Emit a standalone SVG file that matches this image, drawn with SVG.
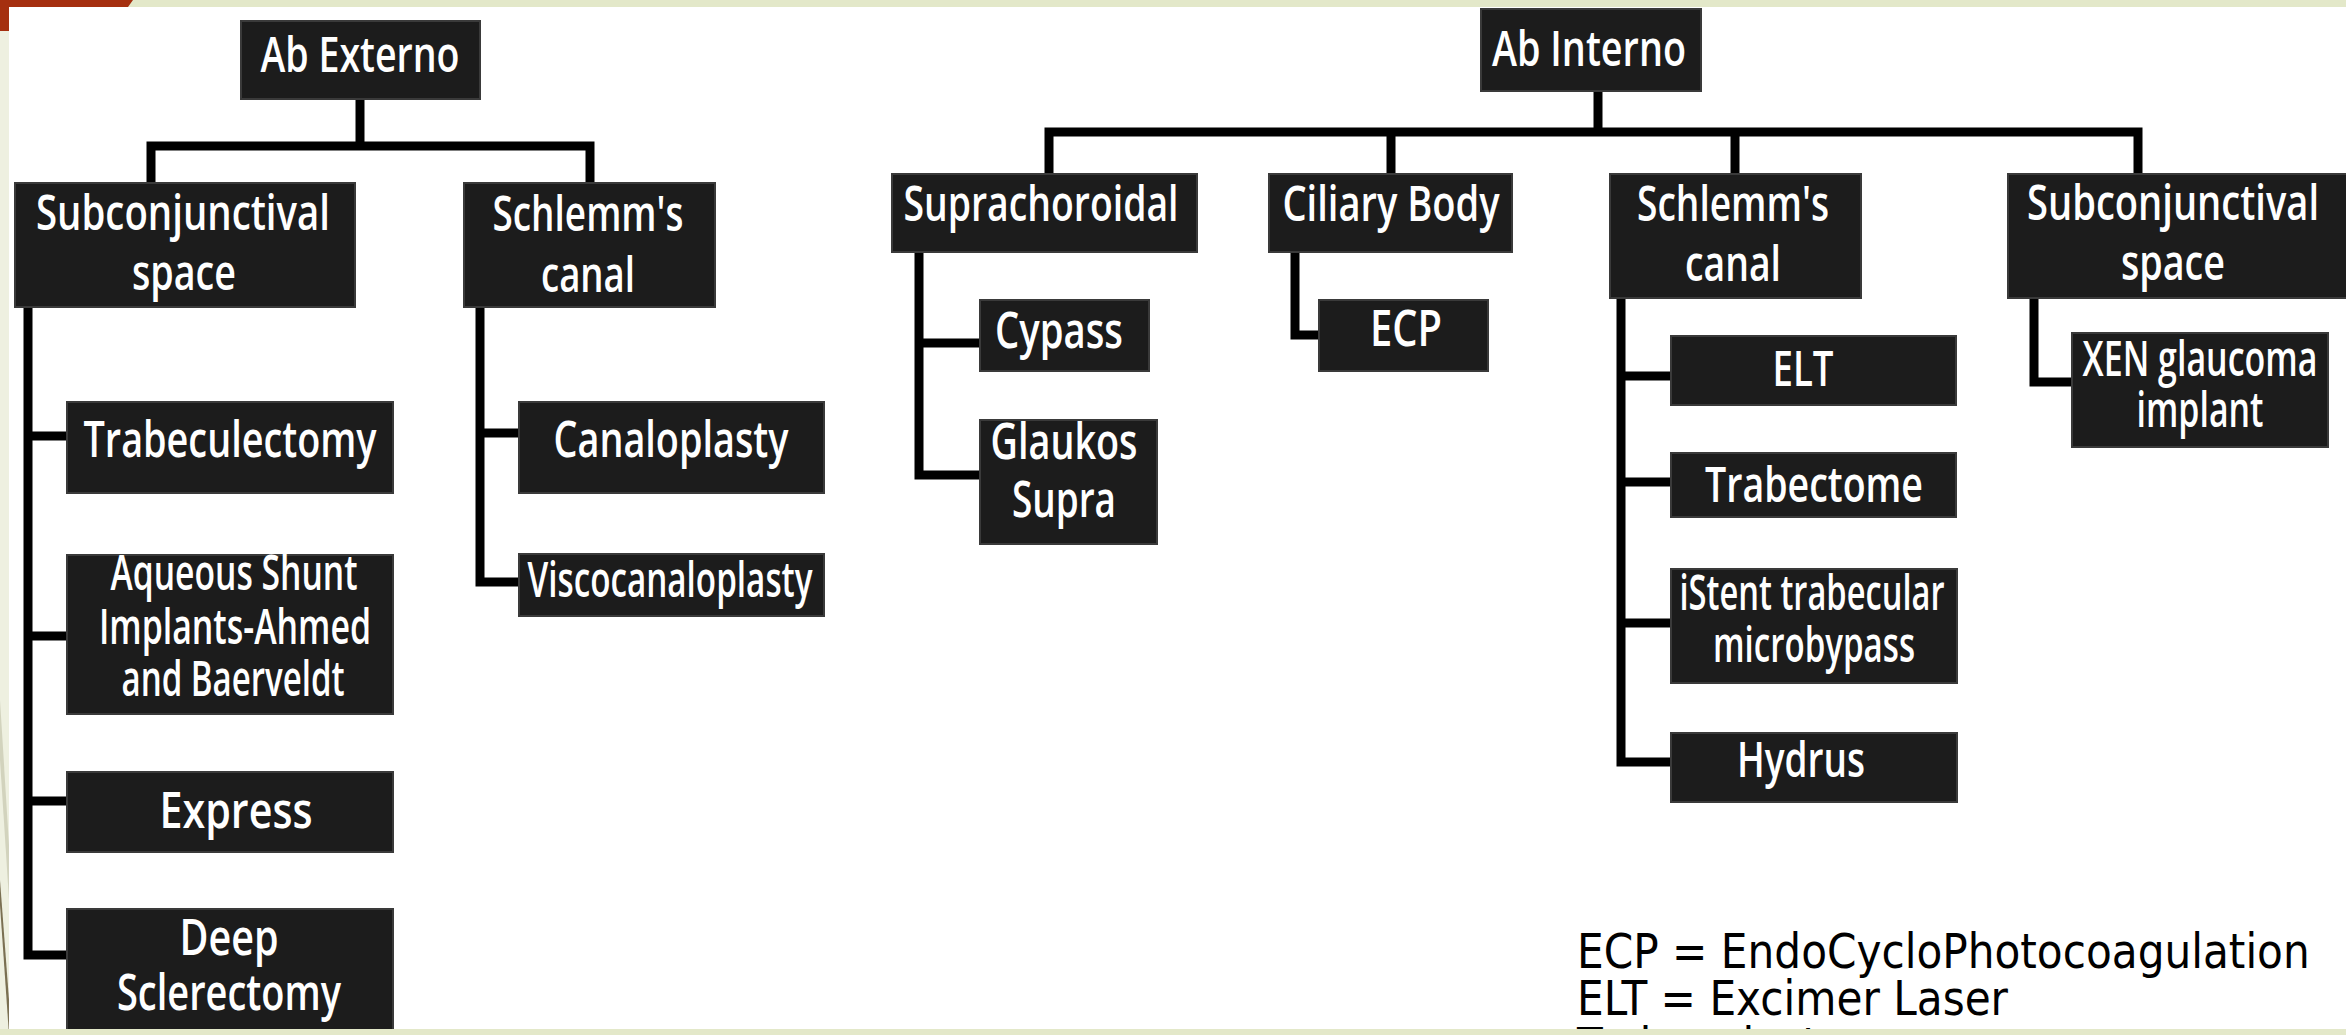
<svg xmlns="http://www.w3.org/2000/svg" width="2346" height="1035" viewBox="0 0 2346 1035">
<style>
.bx{fill:#1c1c1c;stroke:#3a3a3a;stroke-width:2}
.t{font-family:"Open Sans","DejaVu Sans",sans-serif;font-weight:600;font-size:48px;fill:#ffffff;text-anchor:middle}
.b{font-size:51px}
.c{fill:none;stroke:#000;stroke-width:9;stroke-linejoin:miter;stroke-linecap:butt}
.leg{font-family:"DejaVu Sans",sans-serif;font-size:48px;fill:#000}
</style>
<rect x="0" y="0" width="2346" height="1035" fill="#eef0e0"/>
<rect x="0" y="0" width="2346" height="7" fill="#e3e8c9"/>
<polygon points="0,700 0,760 9,900 9,845" fill="#d2d3bd"/>
<polygon points="0,880 0,905 9,1035 9,1000" fill="#7a7052"/>
<polygon points="0,0 133,0 128,7 9,7 9,31 0,31" fill="#a52f0f"/>
<rect x="9" y="7" width="2337" height="1022" fill="#ffffff"/>

<g id="connectors">
<path class="c" d="M360 99V146"/>
<path class="c" d="M151 183V146H590V183"/>
<path class="c" d="M28 307V955H67"/>
<path class="c" d="M28 436H67M28 636H67M28 801H67"/>
<path class="c" d="M480 307V582H519"/>
<path class="c" d="M480 433H519"/>
<path class="c" d="M1598 91V132"/>
<path class="c" d="M1049 173V132H2138V173"/>
<path class="c" d="M1391 132V173M1735 132V173"/>
<path class="c" d="M919 252V475H980"/>
<path class="c" d="M919 343H980"/>
<path class="c" d="M1295 252V335H1319"/>
<path class="c" d="M1621 298V762H1670"/>
<path class="c" d="M1621 376H1672M1621 482H1672M1621 623H1670"/>
<path class="c" d="M2034 298V382H2072"/>
</g>

<g id="ab-externo"><rect class="bx" x="241" y="21" width="239" height="78"/><text class="t" x="360" y="72" textLength="199" lengthAdjust="spacingAndGlyphs">Ab Externo</text></g>
<g id="subconj-left"><rect class="bx" x="15" y="183" width="340" height="124"/><text class="t" x="183" y="230" textLength="294" lengthAdjust="spacingAndGlyphs">Subconjunctival</text><text class="t" x="184" y="290" textLength="104" lengthAdjust="spacingAndGlyphs">space</text></g>
<g id="schlemm-left"><rect class="bx" x="464" y="183" width="251" height="124"/><text class="t" x="588" y="231" textLength="191" lengthAdjust="spacingAndGlyphs">Schlemm's</text><text class="t" x="588" y="292" textLength="94" lengthAdjust="spacingAndGlyphs">canal</text></g>
<g id="trabeculectomy"><rect class="bx" x="67" y="402" width="326" height="91"/><text class="t b" x="230" y="457" textLength="293" lengthAdjust="spacingAndGlyphs">Trabeculectomy</text></g>
<g id="aqueous-shunt"><rect class="bx" x="67" y="555" width="326" height="159"/><text class="t" x="234" y="590" textLength="247" lengthAdjust="spacingAndGlyphs">Aqueous Shunt</text><text class="t" x="235" y="644" textLength="272" lengthAdjust="spacingAndGlyphs">Implants-Ahmed</text><text class="t" x="233" y="696" textLength="223" lengthAdjust="spacingAndGlyphs">and Baerveldt</text></g>
<g id="express"><rect class="bx" x="67" y="772" width="326" height="80"/><text class="t b" x="236" y="828" textLength="153" lengthAdjust="spacingAndGlyphs">Express</text></g>
<g id="deep-sclerectomy"><rect class="bx" x="67" y="909" width="326" height="126"/><text class="t b" x="229" y="955" textLength="99" lengthAdjust="spacingAndGlyphs">Deep</text><text class="t b" x="229" y="1010" textLength="224" lengthAdjust="spacingAndGlyphs">Sclerectomy</text></g>
<g id="canaloplasty"><rect class="bx" x="519" y="402" width="305" height="91"/><text class="t b" x="671" y="457" textLength="235" lengthAdjust="spacingAndGlyphs">Canaloplasty</text></g>
<g id="viscocanaloplasty"><rect class="bx" x="519" y="554" width="305" height="62"/><text class="t" x="670" y="597" textLength="285" lengthAdjust="spacingAndGlyphs">Viscocanaloplasty</text></g>

<g id="ab-interno"><rect class="bx" x="1481" y="9" width="220" height="82"/><text class="t" x="1589" y="66" textLength="194" lengthAdjust="spacingAndGlyphs">Ab Interno</text></g>
<g id="suprachoroidal"><rect class="bx" x="892" y="174" width="305" height="78"/><text class="t" x="1041" y="221" textLength="275" lengthAdjust="spacingAndGlyphs">Suprachoroidal</text></g>
<g id="ciliary-body"><rect class="bx" x="1269" y="174" width="243" height="78"/><text class="t" x="1391" y="221" textLength="217" lengthAdjust="spacingAndGlyphs">Ciliary Body</text></g>
<g id="schlemm-right"><rect class="bx" x="1610" y="174" width="251" height="124"/><text class="t" x="1733" y="221" textLength="192" lengthAdjust="spacingAndGlyphs">Schlemm's</text><text class="t" x="1733" y="281" textLength="96" lengthAdjust="spacingAndGlyphs">canal</text></g>
<g id="subconj-right"><rect class="bx" x="2008" y="174" width="345" height="124"/><text class="t" x="2173" y="220" textLength="292" lengthAdjust="spacingAndGlyphs">Subconjunctival</text><text class="t" x="2173" y="280" textLength="104" lengthAdjust="spacingAndGlyphs">space</text></g>
<g id="cypass"><rect class="bx" x="980" y="300" width="169" height="71"/><text class="t b" x="1059" y="348" textLength="128" lengthAdjust="spacingAndGlyphs">Cypass</text></g>
<g id="glaukos-supra"><rect class="bx" x="980" y="420" width="177" height="124"/><text class="t b" x="1064" y="459" textLength="147" lengthAdjust="spacingAndGlyphs">Glaukos</text><text class="t b" x="1064" y="517" textLength="104" lengthAdjust="spacingAndGlyphs">Supra</text></g>
<g id="ecp"><rect class="bx" x="1319" y="300" width="169" height="71"/><text class="t b" x="1406" y="346" textLength="72" lengthAdjust="spacingAndGlyphs">ECP</text></g>
<g id="elt"><rect class="bx" x="1671" y="336" width="285" height="69"/><text class="t" x="1803" y="386" textLength="61" lengthAdjust="spacingAndGlyphs">ELT</text></g>
<g id="trabectome"><rect class="bx" x="1671" y="453" width="285" height="64"/><text class="t" x="1814" y="502" textLength="218" lengthAdjust="spacingAndGlyphs">Trabectome</text></g>
<g id="istent"><rect class="bx" x="1671" y="569" width="286" height="114"/><text class="t" x="1812" y="610" textLength="265" lengthAdjust="spacingAndGlyphs">iStent trabecular</text><text class="t" x="1814" y="662" textLength="202" lengthAdjust="spacingAndGlyphs">microbypass</text></g>
<g id="hydrus"><rect class="bx" x="1671" y="733" width="286" height="69"/><text class="t" x="1801" y="777" textLength="128" lengthAdjust="spacingAndGlyphs">Hydrus</text></g>
<g id="xen"><rect class="bx" x="2072" y="333" width="256" height="114"/><text class="t" x="2200" y="376" textLength="235" lengthAdjust="spacingAndGlyphs">XEN glaucoma</text><text class="t" x="2200" y="427" textLength="127" lengthAdjust="spacingAndGlyphs">implant</text></g>

<g id="legend" transform="translate(1577 0) scale(0.88 1)">
<text class="leg" x="0" y="968">ECP = EndoCycloPhotocoagulation</text>
<text class="leg" x="0" y="1015">ELT = Excimer Laser</text>
<text class="leg" x="0" y="1062">Trabeculostomy</text>
</g>
<rect x="0" y="1029" width="2346" height="6" fill="#e3e8c9"/>
</svg>
